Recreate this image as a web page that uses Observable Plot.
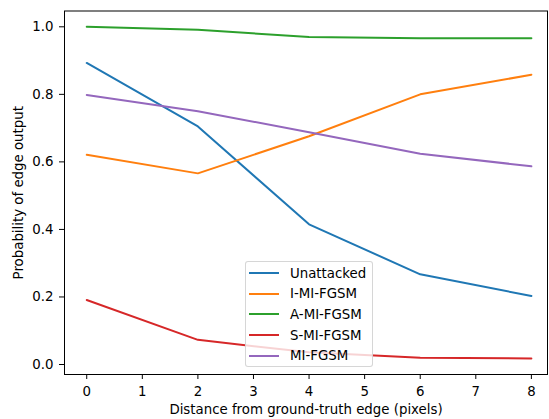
<!DOCTYPE html>
<html>
<head>
<meta charset="utf-8">
<script src="https://cdn.jsdelivr.net/npm/d3@7"></script>
<script src="https://cdn.jsdelivr.net/npm/@observablehq/plot@0.6"></script>
<style>
  body { margin: 0; background: #fff; }
  #wrap { position: relative; width: 549px; height: 419px; font-family: "DejaVu Sans", sans-serif; }
  #wrap svg { display: block; }
  .legend { position: absolute; left: 245px; top: 261px; width: 128px; height: 106px; box-sizing: border-box;
            border: 1px solid rgba(204,204,204,0.8); border-radius: 3px; background: rgba(255,255,255,0.8);
            font-size: 13.33px; color: #000; }
  .row { position: absolute; left: 3px; height: 20px; display: flex; align-items: center; white-space: nowrap; }
  .row svg { width: 30px; height: 4px; margin-right: 11px; }
</style>
</head>
<body>
<div id="wrap"></div>
<script>
const distances = [0, 2, 4, 6, 8];
const seriesNames = ["Unattacked", "I-MI-FGSM", "A-MI-FGSM", "S-MI-FGSM", "MI-FGSM"];
const unattacked = [0.893, 0.705, 0.415, 0.267, 0.203];
const iMiFgsm    = [0.621, 0.566, 0.676, 0.800, 0.858];
const aMiFgsm    = [1.000, 0.991, 0.970, 0.966, 0.966];
const sMiFgsm    = [0.191, 0.073, 0.036, 0.020, 0.018];
const miFgsm     = [0.798, 0.750, 0.688, 0.624, 0.587];
const seriesColors = ["#1f77b4", "#ff7f0e", "#2ca02c", "#d62728", "#9467bd"];
const xTicks = [0, 1, 2, 3, 4, 5, 6, 7, 8];
const yTicks = [0, 0.2, 0.4, 0.6, 0.8, 1.0];
const xLabel = "Distance from ground-truth edge (pixels)";
const yLabel = "Probability of edge output";

const allSeries = [unattacked, iMiFgsm, aMiFgsm, sMiFgsm, miFgsm];
const rows = [];
allSeries.forEach((vals, i) => vals.forEach((v, j) => rows.push({series: seriesNames[i], distance: distances[j], value: v})));

const chart = Plot.plot({
  width: 549,
  height: 419,
  marginLeft: 64,
  marginRight: 2,
  marginTop: 10.5,
  marginBottom: 45,
  style: {fontFamily: "DejaVu Sans, sans-serif", fontSize: "13.33px", color: "#000", background: "#fff"},
  x: {domain: [-0.4, 8.29]},
  y: {domain: [-0.0296, 1.0468]},
  color: {domain: seriesNames, range: seriesColors},
  marks: [
    Plot.line(rows, {x: "distance", y: "value", stroke: "series", z: "series", strokeWidth: 2}),
    Plot.frame({stroke: "#000", strokeWidth: 1}),
    Plot.axisX({ticks: xTicks, tickSize: 5, tickPadding: 7, tickFormat: d3.format("d"),
      label: xLabel, labelAnchor: "center", labelArrow: "none", labelOffset: 39, fontSize: 13.33}),
    Plot.axisY({ticks: yTicks, tickSize: 5, tickPadding: 6, tickFormat: d3.format(".1f"),
      label: yLabel, labelAnchor: "center", labelArrow: "none", labelOffset: 51, fontSize: 13.33})
  ]
});

const wrap = document.getElementById("wrap");
wrap.appendChild(chart);

const legend = document.createElement("div");
legend.className = "legend";
seriesNames.forEach((name, i) => {
  const r = document.createElement("div");
  r.className = "row";
  r.style.top = (1 + i * 20.7) + "px";
  r.innerHTML = `<svg viewBox="0 0 30 4"><line x1="0" x2="30" y1="2" y2="2" stroke="${seriesColors[i]}" stroke-width="2"/></svg><span>${name}</span>`;
  legend.appendChild(r);
});
wrap.appendChild(legend);
</script>
</body>
</html>
